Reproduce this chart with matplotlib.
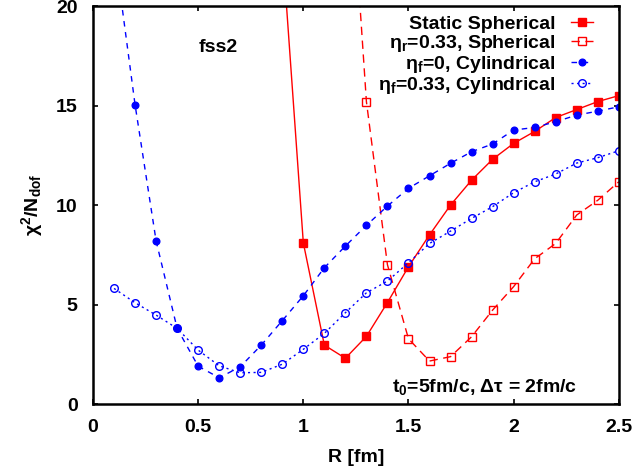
import matplotlib
matplotlib.use('Agg')
import matplotlib.pyplot as plt

# chi^2 / N_dof versus R
r_static = [0.9, 1.0, 1.1, 1.2, 1.3, 1.4, 1.5, 1.6, 1.7, 1.8, 1.9, 2.0, 2.1, 2.2, 2.3, 2.4, 2.5]
chi_static = [23.0, 8.1, 2.96, 2.3, 3.4, 5.1, 6.9, 8.5, 10.0, 11.25, 12.3, 13.1, 13.7, 14.4, 14.8, 15.2, 15.5]

r_sph033 = [1.2, 1.3, 1.4, 1.5, 1.6, 1.7, 1.8, 1.9, 2.0, 2.1, 2.2, 2.3, 2.4, 2.5]
chi_sph033 = [31.0, 15.2, 7.0, 3.28, 2.16, 2.38, 3.38, 4.72, 5.9, 7.3, 8.07, 9.5, 10.24, 11.17]

r_cyl0 = [0.1, 0.2, 0.3, 0.4, 0.5, 0.6, 0.7, 0.8, 0.9, 1.0, 1.1, 1.2, 1.3,
          1.4, 1.5, 1.6, 1.7, 1.8, 1.9, 2.0, 2.1, 2.2, 2.3, 2.4, 2.5]
chi_cyl0 = [23.0, 15.04, 8.2, 3.8, 1.9, 1.32, 1.87, 2.96, 4.19, 5.44, 6.85, 7.94, 8.98,
            9.95, 10.84, 11.47, 12.1, 12.68, 13.07, 13.77, 13.9, 14.19, 14.52, 14.72, 14.94]

r_cyl033 = [0.1, 0.2, 0.3, 0.4, 0.5, 0.6, 0.7, 0.8, 0.9, 1.0, 1.1, 1.2, 1.3,
            1.4, 1.5, 1.6, 1.7, 1.8, 1.9, 2.0, 2.1, 2.2, 2.3, 2.4, 2.5]
chi_cyl033 = [5.81, 5.09, 4.47, 3.8, 2.71, 1.92, 1.57, 1.59, 2.0, 2.75, 3.55, 4.59, 5.59,
              6.18, 7.1, 8.07, 8.69, 9.33, 9.92, 10.62, 11.17, 11.56, 12.11, 12.38, 12.73]

x_ticks = [0, 0.5, 1, 1.5, 2, 2.5]
x_tick_labels = ['0', '0.5', '1', '1.5', '2', '2.5']
y_ticks = [0, 5, 10, 15, 20]

plt.rcParams['font.family'] = ['Liberation Sans', 'DejaVu Sans']
plt.rcParams['font.weight'] = 'bold'
plt.rcParams['axes.labelweight'] = 'bold'
plt.rcParams['font.size'] = 14
plt.rcParams['mathtext.default'] = 'regular'

fig = plt.figure(figsize=(6.34, 4.70), dpi=100)
ax = fig.add_axes([0.1467, 0.1404, 0.8293, 0.8466])

ax.plot(r_static, chi_static, color='red', lw=1.0, ls='-',
        marker='s', ms=5.5, mfc='red', mec='red', label='Static Spherical')
ax.plot(r_sph033, chi_sph033, color='red', lw=1.0, ls=(0, (6, 4)),
        marker='s', ms=5.5, mfc='none', mec='red', mew=1.0,
        label=r'$\eta_r$=0.33, Spherical')
ax.plot(r_cyl0, chi_cyl0, color='blue', lw=1.0, ls=(0, (4, 4)),
        marker='o', ms=4.8, mfc='blue', mec='blue', label=r'$\eta_f$=0, Cylindrical')
ax.plot(r_cyl033, chi_cyl033, color='blue', lw=1.0, ls=(0, (1.5, 2.5)),
        marker='o', ms=5.5, mfc='none', mec='blue', mew=1.0,
        label=r'$\eta_f$=0.33, Cylindrical')

ax.set_xlim(0, 2.5)
ax.set_ylim(0, 20)
ax.set_xticks(x_ticks)
ax.set_xticklabels(x_tick_labels, fontweight='bold')
ax.set_yticks(y_ticks)
ax.set_yticklabels([str(v) for v in y_ticks], fontweight='bold')
ax.tick_params(direction='in', top=True, right=True, length=3.5, width=1.2, pad=11)
for sp in ax.spines.values():
    sp.set_linewidth(1.8)

ax.set_xlabel('R [fm]', fontweight='bold', labelpad=9)
ax.set_ylabel(r'$\chi^2$/N$_{dof}$', fontweight='bold', labelpad=8)

ax.text(0.594, 17.9, 'fss2', ha='center', va='center', fontweight='bold')
ax.text(2.30, 0.85, r't$_0$=5fm/c, $\Delta\tau$ = 2fm/c', ha='right', va='center',
        fontweight='bold')

ax.legend(loc='upper right', markerfirst=False, frameon=False, handlelength=1.1,
          handletextpad=0.8, labelspacing=0.0, borderaxespad=0.0,
          bbox_to_anchor=(0.965, 0.997), prop={'weight': 'bold', 'size': 14})

fig.savefig('out.png', dpi=100)
